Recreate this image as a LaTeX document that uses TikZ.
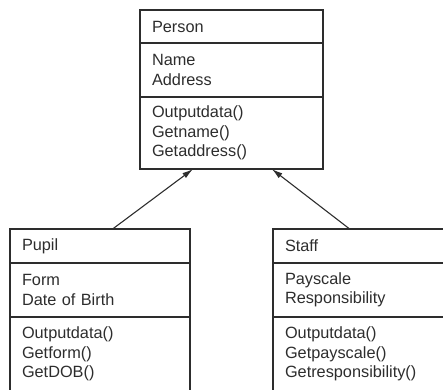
\documentclass[tikz,border=0pt]{standalone}
\usepackage{fontspec}
\setmainfont{Liberation Sans}
\usepackage{tikz}
\usetikzlibrary{arrows.meta, positioning, calc}
\definecolor{umlgray}{RGB}{45,45,45}

\begin{document}
\begin{tikzpicture}[
  x=1pt, y=1pt,
  cls/.style={rectangle, draw=umlgray, line width=1.8pt, outer sep=0pt,
              inner xsep=12pt, inner ysep=0pt, align=left, anchor=north,
              text=umlgray, font=\fontsize{16.3pt}{19.5pt}\selectfont},
  inh/.style={-{Latex[length=11pt,width=6pt]}, umlgray, line width=1.1pt}
]
  \useasboundingbox (0,0) rectangle (443,-389);

  %% -- Person class
  \node[cls, anchor=north west, text width=159pt, minimum height=33pt] (person) at (140,-10) {Person};
  \node[cls, text width=159pt, minimum height=54pt, below=0pt of person] (person-attr) {Name\\Address};
  \node[cls, text width=159pt, minimum height=72pt, below=0pt of person-attr] (person-ops) {Outputdata()\\Getname()\\Getaddress()};

  %% -- Pupil class
  \node[cls, anchor=north west, text width=156pt, minimum height=34pt] (pupil) at (10,-229) {Pupil};
  \node[cls, text width=156pt, minimum height=54pt, below=0pt of pupil] (pupil-attr) {Form\\Date of Birth};
  \node[cls, text width=156pt, minimum height=74pt, below=0pt of pupil-attr] (pupil-ops) {Outputdata()\\Getform()\\GetDOB()};

  %% -- Staff class
  \node[cls, anchor=north west, text width=163pt, minimum height=34pt] (staff) at (273,-229) {Staff};
  \node[cls, text width=163pt, minimum height=54pt, below=0pt of staff] (staff-attr) {Payscale\\Responsibility};
  \node[cls, text width=163pt, minimum height=74pt, below=0pt of staff-attr] (staff-ops) {Outputdata()\\Getpayscale()\\Getresponsibility()};

  %% Inheritance
  \draw[inh] ($(pupil.north west)!0.57!(pupil.north east)$) -- ($(person-ops.south west)!0.29!(person-ops.south east)$);
  \draw[inh] ($(staff.north west)!0.41!(staff.north east)$) -- ($(person-ops.south west)!0.72!(person-ops.south east)$);

\end{tikzpicture}
\end{document}
